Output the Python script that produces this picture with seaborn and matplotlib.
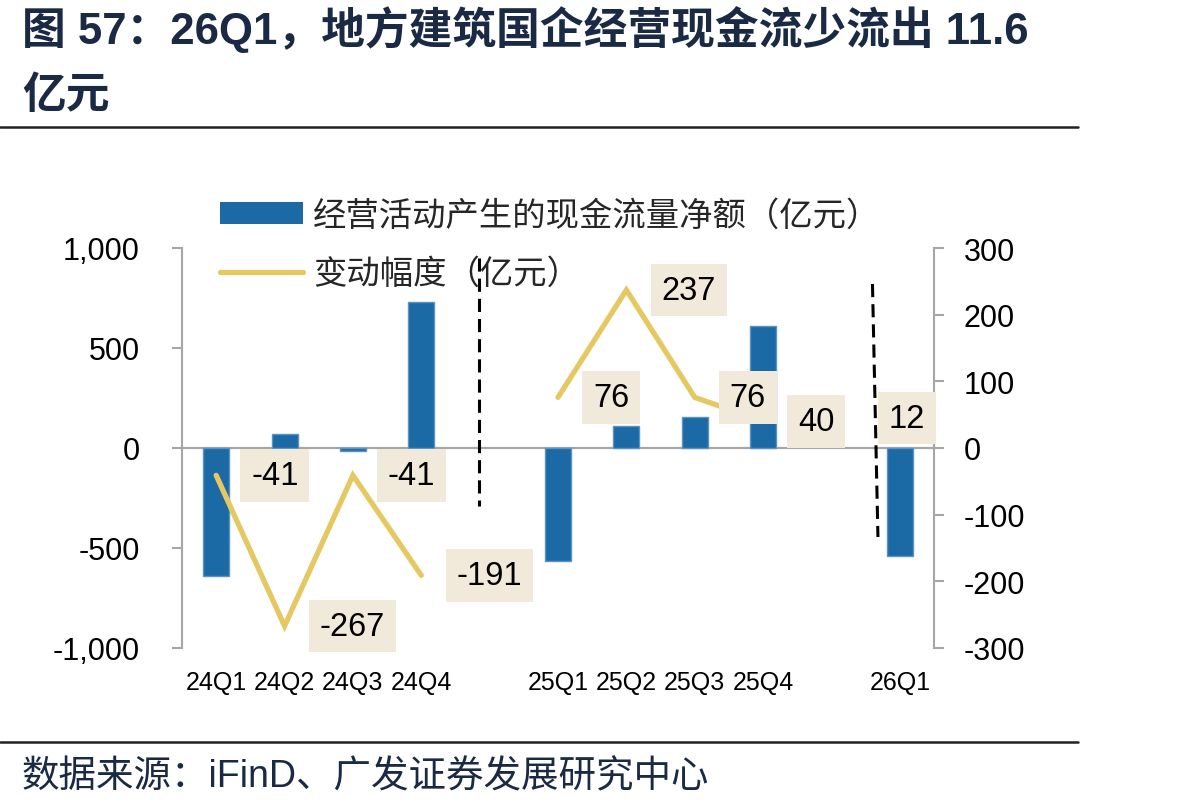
import numpy as np
import pandas as pd
import matplotlib
matplotlib.use("Agg")
import matplotlib.pyplot as plt
from matplotlib.lines import Line2D
from matplotlib.patches import Patch
from matplotlib.ticker import FuncFormatter, FixedLocator
import seaborn as sns

# ---------------- data ----------------
categories = ["24Q1", "24Q2", "24Q3", "24Q4", " ", "25Q1", "25Q2", "25Q3", "25Q4", "  ", "26Q1"]
cash_flow = [-640, 70, -15, 730, np.nan, -565, 110, 155, 610, np.nan, -540]   # 经营活动产生的现金流量净额（亿元）
change = [-41, -267, -41, -191, np.nan, 76, 237, 76, 40, np.nan, 12]        # 变动幅度（亿元）
left_ticks = [-1000, -500, 0, 500, 1000]
right_ticks = [-300, -200, -100, 0, 100, 200, 300]
bar_label = "经营活动产生的现金流量净额（亿元）"
line_label = "变动幅度（亿元）"
title_line1 = "图 57：26Q1，地方建筑国企经营现金流少流出 11.6"
title_line2 = "亿元"
source_text = "数据来源：iFinD、广发证券发展研究中心"
# dashed separators (category position, left-axis value) top -> bottom
sep_x_top = [3.85, 9.60]
sep_x_bottom = [3.85, 9.68]
sep_y_top = [950, 820]
sep_y_bottom = [-290, -445]

bar_color = "#1C6AA5"
line_color = "#E5C862"
box_color = "#F1E9DA"
axis_gray = "#A6A6A6"
title_color = "#1B2A44"

sns.set_theme(style="white")
plt.rcParams["font.family"] = ["Liberation Sans", "Noto Sans CJK SC", "DejaVu Sans"]
plt.rcParams["axes.unicode_minus"] = False

fig = plt.figure(figsize=(11.87, 8.12), dpi=100)
ax = fig.add_axes([182 / 1187, 1 - 649 / 812, (934 - 182) / 1187, 400 / 812])

df = pd.DataFrame({"q": categories, "cf": cash_flow, "chg": change})
sns.barplot(data=df, x="q", y="cf", order=categories, color=bar_color, saturation=1,
            width=0.38, errorbar=None, edgecolor="#5B93C4", linewidth=1, ax=ax, zorder=2)

ax.set_xlim(-0.5, len(categories) - 0.5)
ax.set_ylim(-1000, 1000)
ax.axhline(0, color=axis_gray, lw=1.6, zorder=1)
ax.set_xlabel("")
ax.set_ylabel("")
for s in ["top", "right", "bottom"]:
    ax.spines[s].set_visible(False)
ax.spines["left"].set_color(axis_gray)
ax.spines["left"].set_linewidth(1.5)
ax.yaxis.set_major_locator(FixedLocator(left_ticks))
ax.yaxis.set_major_formatter(FuncFormatter(lambda v, p: f"{v:,.0f}"))
ax.tick_params(axis="y", direction="out", length=7.5, width=1.5, color=axis_gray,
               labelsize=22, pad=23, labelcolor="black", left=True)
ax.tick_params(axis="x", length=0, labelsize=18, pad=16, labelcolor="black")

# separators
for xt, xb, yt, yb in zip(sep_x_top, sep_x_bottom, sep_y_top, sep_y_bottom):
    ax.plot([xt, xb], [yt, yb], color="black", lw=2.2, dashes=(4.3, 2.3),
            clip_on=False, zorder=5)

# change line on right axis
ax2 = ax.twinx()
ax2.set_ylim(-300, 300)
idx = np.arange(len(categories))
vals = np.array(change, dtype=float)
valid = ~np.isnan(vals)
segments = []
start = None
for i in range(len(vals)):
    if valid[i] and start is None:
        start = i
    if (not valid[i] or i == len(vals) - 1) and start is not None:
        end = i if valid[i] else i - 1
        if end > start:
            segments.append((start, end))
        start = None
for a, b in segments:
    seg = pd.DataFrame({"x": idx[a:b + 1], "y": vals[a:b + 1]})
    sns.lineplot(data=seg, x="x", y="y", color=line_color, lw=3.8, ax=ax2,
                 solid_capstyle="round", solid_joinstyle="miter", zorder=3)
ax2.set_xlim(-0.5, len(categories) - 0.5)
ax2.set_xlabel("")
ax2.set_ylabel("")
for s in ["top", "left", "bottom"]:
    ax2.spines[s].set_visible(False)
ax2.spines["right"].set_color(axis_gray)
ax2.spines["right"].set_linewidth(1.5)
ax2.yaxis.set_major_locator(FixedLocator(right_ticks))
ax2.yaxis.set_major_formatter(FuncFormatter(lambda v, p: f"{v:.0f}"))
ax2.tick_params(axis="y", direction="out", length=7.5, width=1.5, color=axis_gray,
                labelsize=22, pad=14, labelcolor="black", right=True)

# value labels
last = len(change) - 1
for i, v in enumerate(change):
    if np.isnan(v):
        continue
    off = (35, 0) if i != last else (-11, 22)
    ax2.annotate(f"{v:.0f}", xy=(i, v), xytext=off, textcoords="offset pixels",
                 ha="left", va="center", fontsize=23.5, color="black", zorder=6,
                 bbox=dict(boxstyle="square,pad=0.33", fc=box_color, ec="none"))

# legend
bar_handle = Patch(facecolor=bar_color, edgecolor="none")
line_handle = Line2D([], [], color=line_color, lw=3.8, solid_capstyle="round")
fig.legend([bar_handle, line_handle], [bar_label, line_label], loc="upper left",
           bbox_to_anchor=(220 / 1187, 1 - 201 / 812), frameon=False, fontsize=24,
           handlelength=2.5, handleheight=0.6, handletextpad=0.3, labelspacing=0.8,
           borderpad=0, borderaxespad=0)

# title, rules, source
fig.text(22 / 1187, 1 - 30 / 812, title_line1, fontsize=31.5, fontweight="bold",
         color=title_color, ha="left", va="center")
fig.text(22 / 1187, 1 - 96 / 812, title_line2, fontsize=31.5, fontweight="bold",
         color=title_color, ha="left", va="center")
fig.add_artist(Line2D([0, 1078 / 1187], [1 - 128 / 812] * 2, color="#222222", lw=1.8))
fig.add_artist(Line2D([0, 1078 / 1187], [1 - 743 / 812] * 2, color="#222222", lw=1.8))
fig.text(22 / 1187, 1 - 777 / 812, source_text, fontsize=27, color=title_color,
         ha="left", va="center")

fig.savefig("out.png", dpi=100)
